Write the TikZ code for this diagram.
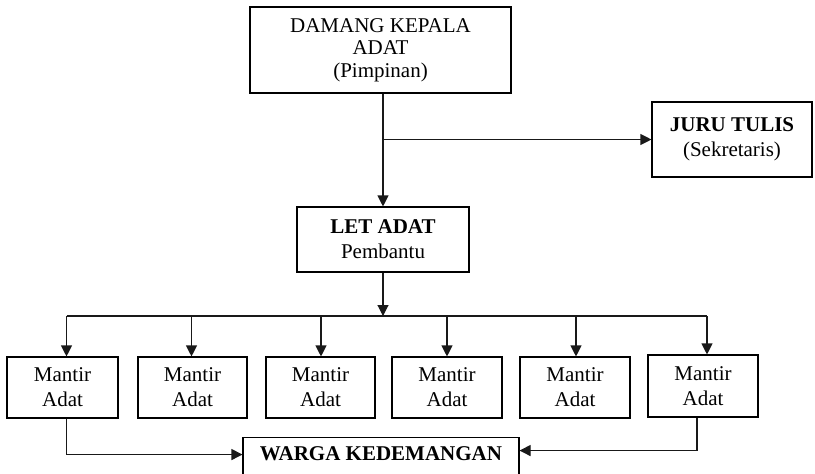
\documentclass[tikz,border=0pt]{standalone}
\usepackage{fontspec}
\setmainfont{Liberation Serif}
\usetikzlibrary{arrows.meta}
\tikzset{
  box/.style={draw=black, line width=1.1pt, rectangle, align=center, inner sep=0pt,
    font=\fontsize{21}{25}\selectfont},
  arr/.style={draw=black!90, line width=1.1pt, -{Triangle[length=11pt,width=11pt]}},
  ln/.style={draw=black!90, line width=1.1pt}
}
\begin{document}
\begin{tikzpicture}[x=1pt,y=-1pt]
\useasboundingbox (0,0) rectangle (815,474);
\node[box, minimum width=261pt, minimum height=86pt, font=\fontsize{21}{22.5}\selectfont] (damang) at (380.5,50)
  {DAMANG KEPALA\\ADAT\\(Pimpinan)};
\node[box, minimum width=160pt, minimum height=75pt] (juru) at (732,139.5)
  {\textbf{JURU TULIS}\\(Sekretaris)};
\node[box, minimum width=172pt, minimum height=65pt] (let) at (383,239.5)
  {\textbf{LET ADAT}\\Pembantu};
\node[box, minimum width=111pt, minimum height=61pt] (m1) at (62.5,387.5) {Mantir\\Adat};
\node[box, minimum width=109pt, minimum height=61pt] (m2) at (192.5,387.5) {Mantir\\Adat};
\node[box, minimum width=109pt, minimum height=61pt] (m3) at (320.5,387.5) {Mantir\\Adat};
\node[box, minimum width=110pt, minimum height=61pt] (m4) at (447,387.5) {Mantir\\Adat};
\node[box, minimum width=110pt, minimum height=61pt] (m5) at (575,387.5) {Mantir\\Adat};
\node[box, minimum width=110pt, minimum height=62pt] (m6) at (703,386) {Mantir\\Adat};
\node[box, anchor=north, minimum width=276pt, text height=20pt, text depth=30pt, inner ysep=3pt] (warga) at (381,437)
  {\textbf{WARGA KEDEMANGAN}};
\coordinate (bus) at (383,316);
\draw[arr] (let.north |- damang.south) -- (let.north);
\draw[arr] (let.north |- juru.west) -- (juru.west);
\draw[arr] (let.south) -- (bus);
\draw[ln] ([xshift=4pt]m1.north |- bus) -- ([xshift=4pt]m6.north |- bus);
\foreach \m/\dx in {m1/4,m2/-1,m3/0.5,m4/0,m5/1,m6/4}{
  \draw[arr] ([xshift=\dx pt]\m.north |- bus) -- ([xshift=\dx pt]\m.north);
}
\draw[arr] ([xshift=4pt]m1.south) |- ([yshift=6pt]warga.base west);
\draw[arr] ([xshift=-6pt]m6.south) |- ([yshift=10pt]warga.base east);
\end{tikzpicture}
\end{document}
